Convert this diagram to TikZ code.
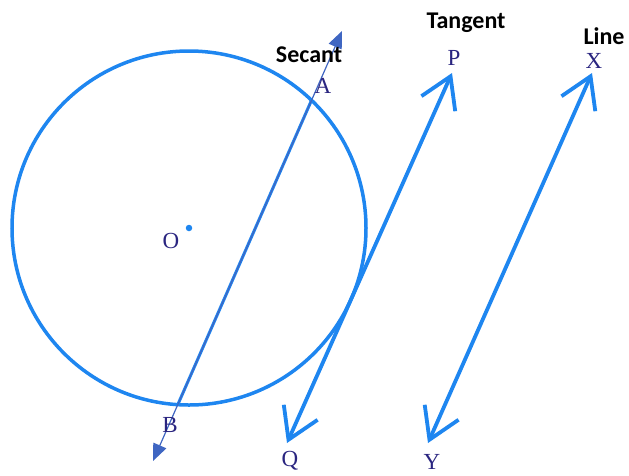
\documentclass[tikz,border=0pt]{standalone}
\usepackage{fontspec}
\setmainfont{Liberation Serif}
\newfontfamily\calib{Carlito}
\usetikzlibrary{arrows.meta}
\definecolor{cblue}{HTML}{1E86F0}
\definecolor{csec}{HTML}{3F66C2}
\definecolor{cletter}{HTML}{2A2580}
\tikzset{
  every picture/.style={x=1pt, y=-1pt},
  ptlabel/.style={text=cletter, font=\fontsize{23}{26}\selectfont, anchor=base, inner sep=0pt},
  title/.style={font=\calib\bfseries\fontsize{24}{28}\selectfont, anchor=base, inner sep=0pt},
  openline/.style={draw=cblue, line width=3.8pt, line cap=round, {Straight Barb[length=30pt, width=37pt]}-{Straight Barb[length=30pt, width=37pt]}},
  secline/.style={draw=csec, line width=1.2pt, {Triangle[length=17pt, width=14pt]}-{Triangle[length=17pt, width=14pt]}},
}
\begin{document}
\begin{tikzpicture}
  \useasboundingbox (0,0) rectangle (629,475);
  % circle and centre
  \node[draw=cblue, circle, line width=3.5pt, minimum size=354pt, inner sep=0pt] (circ) at (189,228) {};
  \node[circle, fill=cblue, inner sep=0pt, minimum size=6.5pt] (odot) at (189,228) {};
  \node[ptlabel] (O) at (171,248) {O};
  % secant
  \coordinate (sTop) at (342,31);
  \coordinate (sBot) at (153,461);
  \coordinate (cA) at (311.5,100.3);
  \coordinate (cB) at (177.8,404.6);
  \draw[cblue, line width=3pt] (cB) -- (cA);
  \draw[secline, xshift=-1.4pt] (sBot) -- (sTop);
  \node[title] (secant) at (309,62) {Secant};
  \node[ptlabel] (A) at (323,93) {A};
  \node[ptlabel] (B) at (170,432) {B};
  % tangent
  \coordinate (pTip) at (452,73);
  \coordinate (qTip) at (287,443);
  \draw[openline] (qTip) -- (pTip);
  \node[title] (tangent) at (466,28) {Tangent};
  \node[ptlabel] (P) at (454,65) {P};
  \node[ptlabel] (Q) at (290,466) {Q};
  % line
  \coordinate (xTip) at (592,73);
  \coordinate (yTip) at (428,443);
  \draw[openline] (yTip) -- (xTip);
  \node[title] (line) at (604,44) {Line};
  \node[ptlabel] (X) at (594,68) {X};
  \node[ptlabel] (Y) at (432,469) {Y};
\end{tikzpicture}
\end{document}
